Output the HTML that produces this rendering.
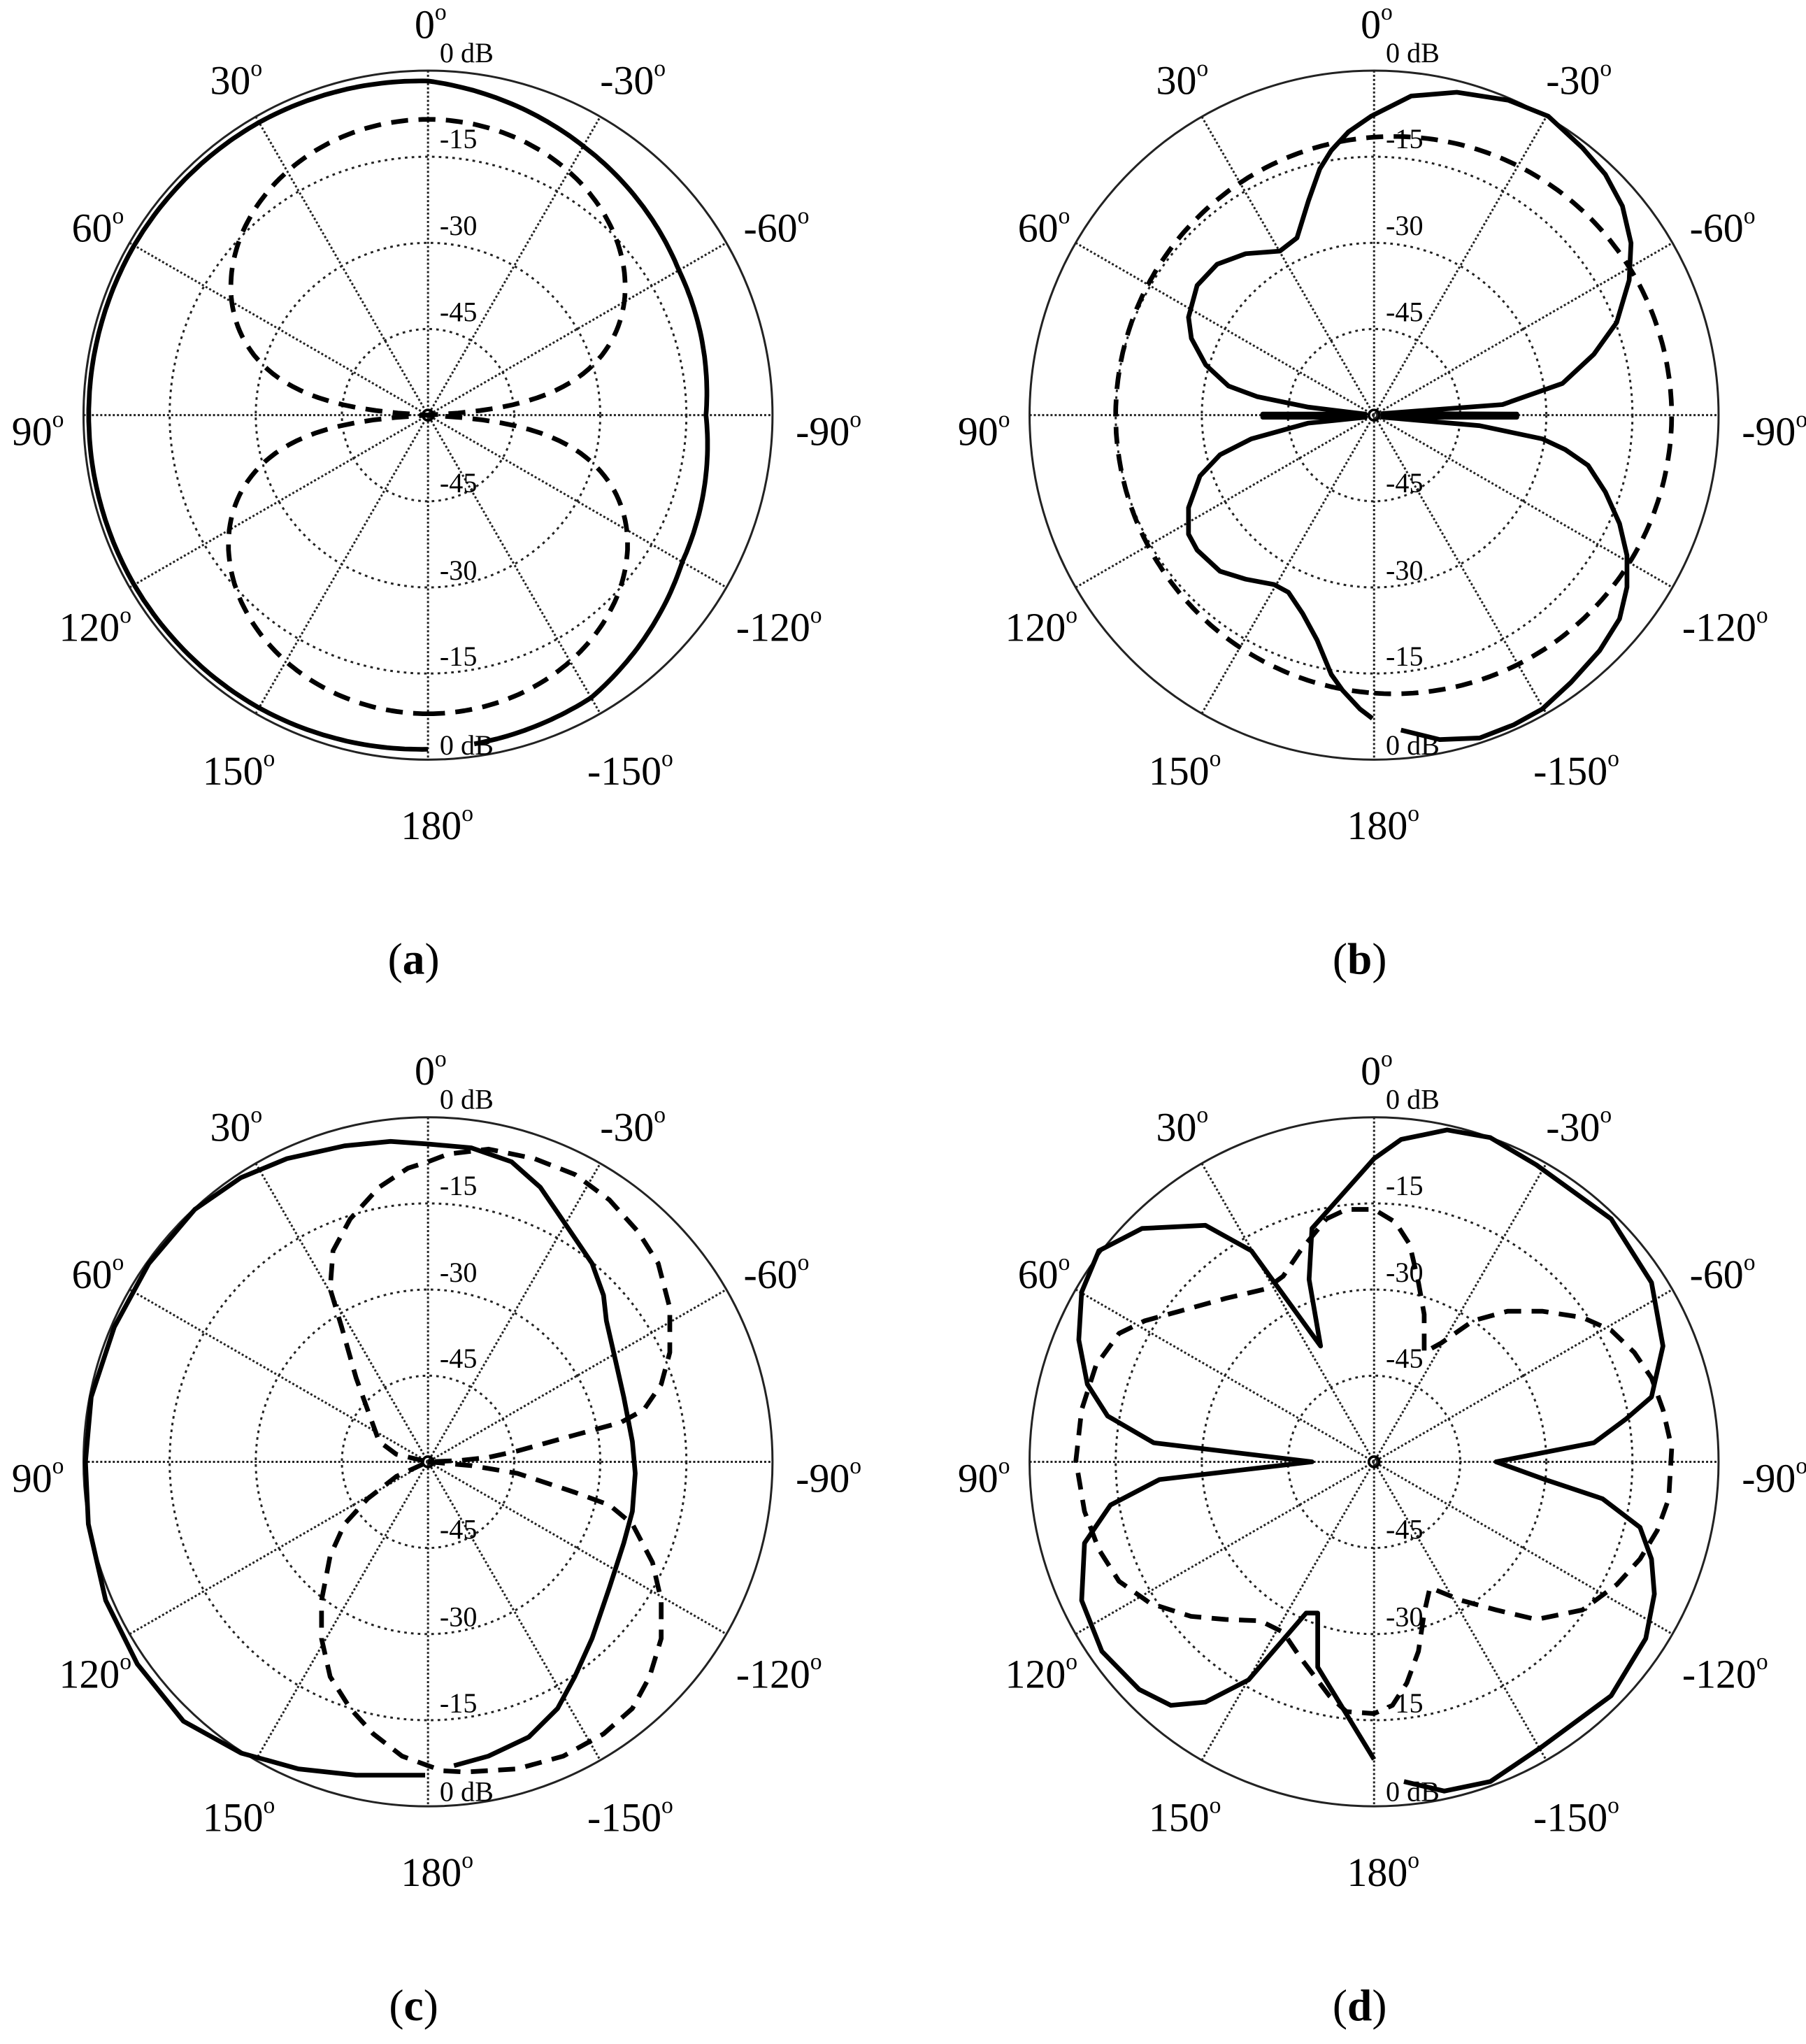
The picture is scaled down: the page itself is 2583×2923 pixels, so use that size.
<!DOCTYPE html>
<html><head><meta charset="utf-8">
<style>
html,body{margin:0;padding:0;background:#fff;}
svg{display:block;}
text{font-family:"Liberation Serif","DejaVu Serif",serif;fill:#000;}
</style></head>
<body>
<svg id="s" xmlns="http://www.w3.org/2000/svg" width="2583" height="2923" viewBox="0 0 1384 1566">
<rect width="1384" height="1566" fill="#fff"/>
<g id="g"></g>
<text x="317" y="746" font-size="34" text-anchor="middle">(<tspan font-weight="bold">a</tspan>)</text>
<text x="1042" y="746" font-size="34" text-anchor="middle">(<tspan font-weight="bold">b</tspan>)</text>
<text x="317" y="1548" font-size="34" text-anchor="middle">(<tspan font-weight="bold">c</tspan>)</text>
<text x="1042" y="1548" font-size="34" text-anchor="middle">(<tspan font-weight="bold">d</tspan>)</text>
</svg>
<script>
var NS="http://www.w3.org/2000/svg",G=document.getElementById('g');
function el(n,a,t){var e=document.createElementNS(NS,n);for(var k in a)e.setAttribute(k,a[k]);if(t!==undefined)e.textContent=t;G.appendChild(e);return e;}
var R=264;
function grid(cx,cy){
  [66,132,198].forEach(function(r){el('circle',{cx:cx,cy:cy,r:r,fill:'none',stroke:'#222','stroke-width':1.6,'stroke-dasharray':'2,3.2'});});
  for(var a=0;a<180;a+=30){var t=a*Math.PI/180,dx=R*Math.sin(t),dy=R*Math.cos(t);
    el('line',{x1:cx-dx,y1:cy-dy,x2:cx+dx,y2:cy+dy,stroke:'#222','stroke-width':1.6,'stroke-dasharray':'1.6,1.6'});}
  el('circle',{cx:cx,cy:cy,r:R,fill:'none',stroke:'#222','stroke-width':1.6});
  el('circle',{cx:cx,cy:cy,r:4,fill:'none',stroke:'#000','stroke-width':2});
  var labs=[['0',-3,29],['30',-152,72],['-30',152,72],['60',-258,185],['-60',262,185],['90',-304,341],['-90',302,341],['120',-260,491],['-120',264,491],['150',-150,601],['-150',150,601],['180',2,643]];
  labs.forEach(function(l){var t=el('text',{x:cx+l[1]+5,y:cy-318+l[2],'font-size':31,'text-anchor':'middle'});
    t.appendChild(document.createTextNode(l[0]));var s=document.createElementNS(NS,'tspan');s.setAttribute('dy','-14');s.setAttribute('font-size','18');s.textContent='o';t.appendChild(s);});
  var d=[['0 dB',47.5],['-15',113.5],['-30',180],['-45',246],['-45',377],['-30',444],['-15',510],['0 dB',578]];
  d.forEach(function(x){el('text',{x:cx+9,y:cy-318+x[1],'font-size':21.5},x[0]);});
}
function poly(pts,dash){var s=pts.map(function(p){return p[0].toFixed(1)+','+p[1].toFixed(1);}).join(' ');
  var a={points:s,fill:'none',stroke:'#000','stroke-width':3.6,'stroke-linejoin':'round'};if(dash)a['stroke-dasharray']='13,8';el('polyline',a);}
function interp(tb,t){while(t>180)t-=360;while(t<=-180)t+=360;
  for(var i=0;i<tb.length-1;i++){if(t>=tb[i][0]&&t<=tb[i+1][0]){var f=(t-tb[i][0])/(tb[i+1][0]-tb[i][0]);return tb[i][1]+f*(tb[i+1][1]-tb[i][1]);}}return tb[tb.length-1][1];}
function polarF(cx,cy,f,a0,a1){var p=[];for(var t=a0;t<=a1+0.001;t+=1){var r=Math.max(0,f(t)),q=t*Math.PI/180;p.push([cx-r*Math.sin(q),cy-r*Math.cos(q)]);}return p;}
function zmap(cx,cy,zcx,zcy,sx,sy,pts){return pts.map(function(p){return [cx+(p[0]-zcx)/sx,cy+(p[1]-zcy)/sy];});}

// Panel a
var ax=328,ay=318;grid(ax,ay);
var aS=[[-180,256],[-150,250],[-120,225],[-90,213],[-60,222],[-30,238],[0,256],[30,259],[60,260],[90,260],[120,260],[150,259],[180,256]];
poly(polarF(ax,ay,function(t){return interp(aS,t);},-172,180));
poly(polarF(ax,ay,function(t){var q=t*Math.PI/180,c=Math.abs(Math.cos(q));c=Math.max(c,1e-4);var off=(Math.abs(t)>90&&Math.abs(t)<270)?-8:-8.5;var db=off+40*Math.log10(c);if(db<-60)db=-60;return R*(1+db/60);},-180,180),true);

// Panel b
var bx=1053,by=318;grid(bx,by);
var bS=[[862,1370],[930,1388],[1000,1385],[1060,1360],[1110,1330],[1160,1280],[1210,1220],[1245,1160],[1258,1100],[1258,1040],[1245,980],[1220,920],[1190,870],[1150,840],[1110,820],[1000,795],[830,779],[1065,779],[1065,773],[830,772],[1040,755],[1145,715],[1200,660],[1240,600],[1262,520],[1265,450],[1250,380],[1220,320],[1180,270],[1120,210],[1050,180],[960,165],[880,172],[810,210],[770,240],[740,275],[720,310],[700,370],[680,440],[650,465],[590,470],[540,490],[505,530],[490,590],[495,630],[520,680],[560,720],[610,740],[700,760],[800,773],[620,773],[620,779],[800,779],[700,790],[600,820],[545,850],[510,890],[490,950],[490,1000],[505,1030],[545,1070],[590,1085],[640,1095],[665,1110],[690,1150],[715,1200],[740,1265],[760,1295],[790,1330],[812,1348]];
poly(zmap(bx,by,815,775,2.286,2.466,bS));
poly(polarF(bx,by,function(t){return 213-15*Math.sin(t*Math.PI/180);},-180,180),true);

// Panel c
var cx=328,cy=1120;grid(cx,cy);
var cS=[[790,1140],[850,1125],[920,1095],[970,1050],[1000,1000],[1030,940],[1060,860],[1085,790],[1100,740],[1105,680],[1100,630],[1085,560],[1070,500],[1055,440],[1050,400],[1030,350],[1000,310],[970,270],[940,230],[890,190],[820,168],[745,162],[680,158],[600,165],[500,185],[420,215],[340,265],[260,350],[200,450],[160,560],[150,662],[155,760],[185,880],[240,980],[320,1070],[420,1120],[520,1145],[620,1155],[740,1155]];
poly(zmap(cx,cy,745,662,2.267,2.053,cS));
var cD1=[[745,190],[780,178],[850,170],[930,185],[1000,210],[1060,250],[1110,300],[1145,350],[1165,420],[1165,490],[1150,540],[1120,580],[1080,600],[1000,620],[900,645],[850,655],[800,660],[745,662],[690,650],[660,630],[640,580],[620,530],[595,450],[575,390],[580,330],[610,280],[660,230],[710,200],[745,190]];
var cD2=[[745,662],[820,668],[900,680],[1000,710],[1060,730],[1100,760],[1135,820],[1150,880],[1150,940],[1130,1000],[1100,1050],[1050,1090],[980,1125],[900,1145],[810,1150],[770,1148],[745,1140],[700,1125],[650,1090],[610,1050],[575,1000],[560,940],[560,880],[575,810],[600,760],[640,720],[690,685],[745,662]];
poly(zmap(cx,cy,745,662,2.267,2.053,cD1),true);
poly(zmap(cx,cy,745,662,2.267,2.053,cD2),true);

// Panel d
var dx=1053,dy=1120;grid(dx,dy);
var dS=[[870,1165],[940,1180],[1020,1165],[1110,1110],[1230,1030],[1290,940],[1305,870],[1300,815],[1280,765],[1215,720],[1115,690],[1030,662],[1200,632],[1255,595],[1300,560],[1320,480],[1300,380],[1230,280],[1100,195],[1020,152],[945,140],[865,155],[818,185],[710,295],[705,375],[725,480],[605,330],[525,290],[415,295],[340,330],[310,395],[305,470],[320,540],[355,590],[435,632],[710,662],[445,690],[360,730],[315,790],[310,880],[345,960],[410,1020],[465,1045],[525,1040],[600,1005],[700,900],[720,900],[720,985],[818,1130]];
poly(zmap(dx,dy,818,662,2.267,2.053,dS));
var dD=[[735,280],[770,265],[818,265],[855,285],[880,320],[895,380],[905,430],[905,490],[935,475],[990,440],[1050,425],[1110,425],[1180,435],[1230,455],[1270,490],[1300,530],[1320,580],[1335,640],[1330,720],[1310,770],[1280,815],[1240,855],[1180,895],[1100,910],[1030,895],[970,880],[915,860],[905,900],[895,960],[875,1010],[850,1045],[818,1058],[770,1055],[740,1030],[715,1000],[690,970],[660,930],[620,912],[560,910],[500,905],[430,885],[375,850],[340,800],[315,740],[300,660],[310,580],[335,510],[375,460],[420,440],[480,425],[560,405],[630,390],[660,370],[690,330],[735,280]];
poly(zmap(dx,dy,818,662,2.267,2.053,dD),true);
</script>
</body></html>
